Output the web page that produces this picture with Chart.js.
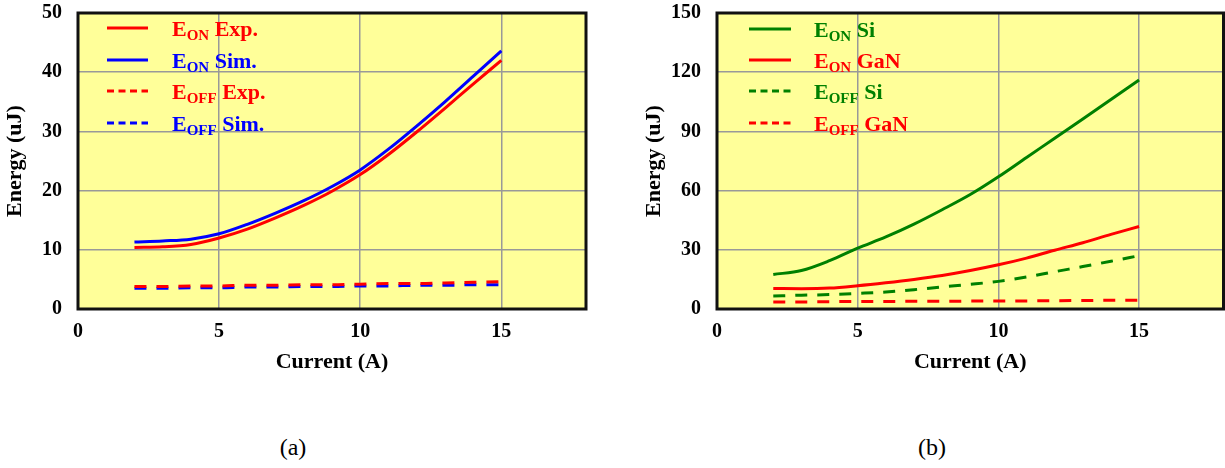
<!DOCTYPE html>
<html>
<head>
<meta charset="utf-8">
<script src="https://cdn.jsdelivr.net/npm/chart.js@4"></script>
<style>
  body { margin: 0; background: #fff; width: 1225px; height: 468px; position: relative; overflow: hidden; }
  .box { position: absolute; top: 0; height: 380px; }
  .cap { position: absolute; top: 434px; font: 24px "Liberation Serif", "Times New Roman", serif; color: #000; transform: translateX(-50%); }
</style>
</head>
<body>
<div class="box" style="left:0;width:612px"><canvas id="chartA"></canvas></div>
<div class="box" style="left:612px;width:613px"><canvas id="chartB"></canvas></div>
<div class="cap" style="left:293px">(a)</div>
<div class="cap" style="left:932px">(b)</div>
<script>
// shared x values (A)
const current = [2, 3, 4, 5, 6, 7, 8, 9, 10, 11, 12, 13, 14, 15];

// (a) experiment vs simulation
const eonExp  = [10.4, 10.5, 10.9, 12.0, 13.5, 15.4, 17.5, 19.9, 22.7, 26.1, 29.9, 33.9, 38.0, 42.0];
const eonSim  = [11.3, 11.5, 11.8, 12.7, 14.3, 16.2, 18.3, 20.7, 23.5, 27.0, 30.9, 35.0, 39.3, 43.6];
const eoffExp = [3.8, 3.8, 3.9, 3.9, 4.0, 4.0, 4.1, 4.1, 4.2, 4.3, 4.3, 4.4, 4.5, 4.6];
const eoffSim = [3.5, 3.5, 3.6, 3.6, 3.7, 3.7, 3.8, 3.8, 3.9, 3.9, 4.0, 4.0, 4.1, 4.1];

// (b) Si vs GaN
const eonSi   = [17.5, 19.5, 24.5, 30.8, 36.5, 43.0, 50.3, 58.0, 67.0, 76.8, 86.5, 96.3, 106.2, 116.0];
const eonGan  = [10.4, 10.3, 10.6, 11.8, 13.3, 15.0, 17.0, 19.5, 22.4, 25.8, 29.8, 33.6, 37.8, 41.8];
const eoffSi  = [6.6, 7.0, 7.3, 7.9, 8.6, 9.8, 11.2, 12.5, 14.0, 16.2, 18.9, 21.5, 24.2, 27.0];
const eoffGan = [3.6, 3.6, 3.7, 3.8, 3.8, 3.9, 3.9, 4.0, 4.0, 4.1, 4.2, 4.3, 4.4, 4.5];

const xTicks = [0, 5, 10, 15];
const yTicksA = [0, 10, 20, 30, 40, 50];
const yTicksB = [0, 30, 60, 90, 120, 150];

// legend entries: [subscript, rest of label]
const legendA = [['ON', 'Exp.'], ['ON', 'Sim.'], ['OFF', 'Exp.'], ['OFF', 'Sim.']];
const legendB = [['ON', 'Si'], ['ON', 'GaN'], ['OFF', 'Si'], ['OFF', 'GaN']];

const RED = '#ff0000', BLUE = '#0000ff', GREEN = '#008000';
const FONT = '"Liberation Serif", "Times New Roman", serif';

function pts(ys) {
    return current.map((x, i) => ({ x: x, y: ys[i] }));
}

function ds(label, ys, color, dashed) {
    return {
        label: label,
        data: pts(ys),
        borderColor: color,
        backgroundColor: color,
        borderWidth: 3,
        borderDash: dashed ? [12, 10] : [],
        pointRadius: 0,
        cubicInterpolationMode: 'monotone',
        fill: false
    };
}

const plotPlugin = {
    id: 'plotFrame',
    beforeDraw(chart) {
        const a = chart.chartArea, ctx = chart.ctx;
        ctx.save();
        ctx.fillStyle = '#ffff99';
        ctx.fillRect(a.left, a.top, a.right - a.left, a.bottom - a.top);
        ctx.restore();
    },
    afterDraw(chart) {
        const a = chart.chartArea, ctx = chart.ctx;
        const o = chart.options.plugins.plotFrame;
        ctx.save();
        ctx.strokeStyle = '#111';
        ctx.lineWidth = 3;
        ctx.strokeRect(a.left, a.top, a.right - a.left, a.bottom - a.top);
        // legend with subscripts
        chart.data.datasets.forEach((d, i) => {
            const y = o.rowY[i];
            ctx.strokeStyle = d.borderColor;
            ctx.lineWidth = 3;
            ctx.setLineDash(d.borderDash.length ? [7, 4.5] : []);
            ctx.beginPath();
            ctx.moveTo(o.lineX0, y);
            ctx.lineTo(o.lineX1, y);
            ctx.stroke();
            ctx.setLineDash([]);
            ctx.fillStyle = d.borderColor;
            ctx.textBaseline = 'alphabetic';
            ctx.textAlign = 'left';
            let x = o.textX;
            ctx.font = 'bold 22px ' + FONT;
            ctx.fillText('E', x, y + 8);
            x += ctx.measureText('E').width;
            ctx.font = 'bold 15px ' + FONT;
            ctx.fillText(o.items[i][0], x, y + 12);
            x += ctx.measureText(o.items[i][0]).width;
            ctx.font = 'bold 22px ' + FONT;
            ctx.fillText(' ' + o.items[i][1], x, y + 8);
        });
        ctx.restore();
    }
};

function makeChart(id, sets, yMax, yTicks, yWidth, padRight, yTitlePad, legendItems, lg) {
    return new Chart(document.getElementById(id), {
        type: 'line',
        data: { datasets: sets },
        plugins: [plotPlugin],
        options: {
            responsive: true,
            maintainAspectRatio: false,
            animation: false,
            layout: { padding: { top: 13, right: padRight, left: 0, bottom: 0 } },
            plugins: {
                legend: { display: false },
                tooltip: { enabled: false },
                plotFrame: Object.assign({ items: legendItems }, lg)
            },
            scales: {
                x: {
                    type: 'linear',
                    min: 0,
                    max: 18,
                    afterFit: s => { s.height = 71; s.paddingLeft = 0; s.paddingRight = 0; s.paddingTop = 0; s.paddingBottom = 0; },
                    afterBuildTicks: s => { s.ticks = xTicks.map(v => ({ value: v })); },
                    grid: { color: '#999999', lineWidth: 1.5, drawTicks: false },
                    border: { display: false },
                    ticks: { padding: 11, color: '#000', font: { family: FONT, size: 20, weight: 'bold' } },
                    title: {
                        display: true,
                        text: 'Current (A)',
                        color: '#000',
                        padding: { top: 0, bottom: 4 },
                        font: { family: FONT, size: 22, weight: 'bold' }
                    }
                },
                y: {
                    min: 0,
                    max: yMax,
                    afterFit: s => { s.width = yWidth; s.paddingTop = 0; s.paddingBottom = 0; s.paddingLeft = 0; s.paddingRight = 0; },
                    afterBuildTicks: s => { s.ticks = yTicks.map(v => ({ value: v })); },
                    grid: { color: '#999999', lineWidth: 1.5, drawTicks: false },
                    border: { display: false },
                    ticks: { padding: 16, color: '#000', font: { family: FONT, size: 20, weight: 'bold' } },
                    title: {
                        display: true,
                        text: 'Energy (uJ)',
                        color: '#000',
                        padding: { top: yTitlePad, bottom: 0 },
                        font: { family: FONT, size: 22, weight: 'bold' }
                    }
                }
            }
        }
    });
}

makeChart('chartA', [
    ds('EON Exp.', eonExp, RED, false),
    ds('EON Sim.', eonSim, BLUE, false),
    ds('EOFF Exp.', eoffExp, RED, true),
    ds('EOFF Sim.', eoffSim, BLUE, true)
], 50, yTicksA, 78, 26, 2, legendA,
   { lineX0: 107, lineX1: 148, textX: 172, rowY: [28, 60, 91, 123] });

makeChart('chartB', [
    ds('EON Si', eonSi, GREEN, false),
    ds('EON GaN', eonGan, RED, false),
    ds('EOFF Si', eoffSi, GREEN, true),
    ds('EOFF GaN', eoffGan, RED, true)
], 150, yTicksB, 105, 1.5, 29, legendB,
   { lineX0: 137, lineX1: 179, textX: 202, rowY: [29, 60, 91, 123] });
</script>
</body>
</html>
